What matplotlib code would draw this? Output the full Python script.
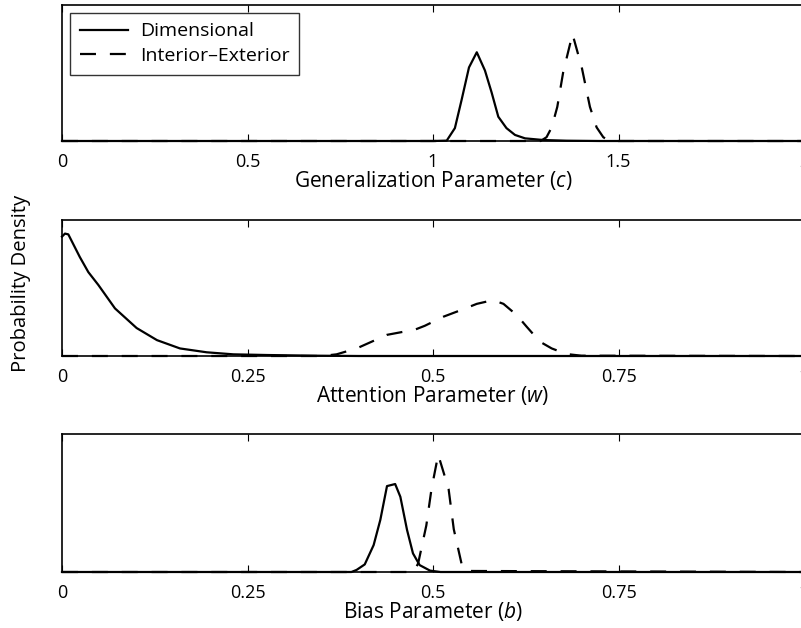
import matplotlib
matplotlib.use("Agg")
import matplotlib.pyplot as plt
from matplotlib.ticker import FixedLocator, FixedFormatter

plt.rcParams['font.family'] = ['Open Sans', 'DejaVu Sans']
plt.rcParams['lines.scale_dashes'] = False
plt.rcParams['mathtext.fontset'] = 'custom'
plt.rcParams['mathtext.it'] = 'Open Sans:italic'

# generalization parameter (c)
c_dim_x = [0, 1.0, 1.037, 1.059, 1.077, 1.097, 1.118, 1.140, 1.158, 1.176, 1.198, 1.221, 1.248, 1.297, 1.36, 1.45, 2.0]
c_dim_y = [0, 0, 0.05, 1.7, 5.4, 9.7, 11.7, 9.3, 6.4, 3.2, 1.7, 0.8, 0.35, 0.13, 0.04, 0, 0]
c_ie_x = [0, 1.29, 1.306, 1.320, 1.335, 1.351, 1.376, 1.401, 1.423, 1.441, 1.459, 1.475, 2.0]
c_ie_y = [0, 0, 0.5, 1.8, 4.5, 9.1, 14.1, 9.7, 4.5, 1.8, 0.5, 0, 0]

# attention parameter (w)
w_dim_x = [0, 0.004, 0.0085, 0.024, 0.0355, 0.049, 0.0714, 0.1006, 0.128, 0.159, 0.195, 0.231, 0.276, 0.343, 0.40, 1.0]
w_dim_y = [15.8, 16.2, 16.1, 13.1, 11.1, 9.4, 6.3, 3.7, 2.1, 1.0, 0.49, 0.22, 0.13, 0.04, 0, 0]
w_ie_x = [0, 0.35, 0.370, 0.397, 0.438, 0.476, 0.489, 0.514, 0.541, 0.559, 0.581, 0.595, 0.613, 0.626, 0.644, 0.660, 0.680, 0.70, 1.0]
w_ie_y = [0, 0, 0.22, 1.0, 2.8, 3.5, 4.0, 5.2, 6.2, 6.9, 7.4, 6.9, 5.4, 3.9, 1.9, 1.0, 0.26, 0.04, 0]

# bias parameter (b)
b_dim_x = [0, 0.39, 0.397, 0.408, 0.420, 0.429, 0.438, 0.449, 0.456, 0.465, 0.473, 0.482, 0.496, 0.51, 1.0]
b_dim_y = [0, 0, 0.6, 2.2, 7.8, 15.1, 24.9, 25.5, 21.8, 12.2, 5.4, 2.0, 0.4, 0, 0]
b_ie_x = [0, 0.474, 0.480, 0.491, 0.498, 0.507, 0.521, 0.528, 0.539, 0.545, 1.0]
b_ie_y = [0, 0, 2.5, 13.5, 24.1, 34.0, 24.1, 12.4, 1.9, 0.3, 0]

c_ticks = [0, 0.5, 1, 1.5, 2]
c_labels = ['0', '0.5', '1', '1.5', '2']
q_ticks = [0, 0.25, 0.5, 0.75, 1]
q_labels = ['0', '0.25', '0.5', '0.75', '1']

series_names = ['Dimensional', 'Interior\u2013Exterior']

panels = [
    (c_dim_x, c_dim_y, c_ie_x, c_ie_y, (0, 2), 18, c_ticks, c_labels,
     'Generalization Parameter ($\\mathit{c}$)', (4.5, 141)),
    (w_dim_x, w_dim_y, w_ie_x, w_ie_y, (0, 1), 18, q_ticks, q_labels,
     'Attention Parameter ($\\mathit{w}$)', (220, 356)),
    (b_dim_x, b_dim_y, b_ie_x, b_ie_y, (0, 1), 40, q_ticks, q_labels,
     'Bias Parameter ($\\mathit{b}$)', (434, 572)),
]

W, H = 801, 628
fig = plt.figure(figsize=(W / 100, H / 100), dpi=100)

x0, x1 = 62, 804
axes = []
for dx, dy, ix, iy, xlim, ymax, ticks, labels, xlabel, (top, bot) in panels:
    ax = fig.add_axes([x0 / W, 1 - bot / H, (x1 - x0) / W, (bot - top) / H])
    ax.plot(dx, dy, color='black', lw=1.6, clip_on=False, label=series_names[0])
    ax.plot(ix, iy, color='black', lw=1.6, dashes=(11.5, 10), clip_on=False,
            label=series_names[1])
    ax.set_xlim(*xlim)
    ax.set_ylim(0, ymax)
    ax.xaxis.set_major_locator(FixedLocator(ticks))
    ax.xaxis.set_major_formatter(FixedFormatter(labels))
    ax.set_yticks([])
    ax.tick_params(axis='x', direction='in', top=True, length=5, width=0.8,
                   labelsize=13, pad=8.5)
    for s in ax.spines.values():
        s.set_linewidth(1.2)
    ax.set_xlabel(xlabel, fontsize=15, labelpad=-1)
    axes.append(ax)

leg = axes[0].legend(loc='upper left', fontsize=14, frameon=True, fancybox=False,
                     handlelength=2.47, handletextpad=0.62, borderpad=0.5,
                     labelspacing=0.35, borderaxespad=0.42)
leg.get_frame().set_edgecolor('black')
leg.get_frame().set_linewidth(1.0)

fig.text(21 / W, 1 - 283 / H, 'Probability Density', rotation=90,
         ha='center', va='center', fontsize=14.6)

fig.savefig('out.png', dpi=100)
